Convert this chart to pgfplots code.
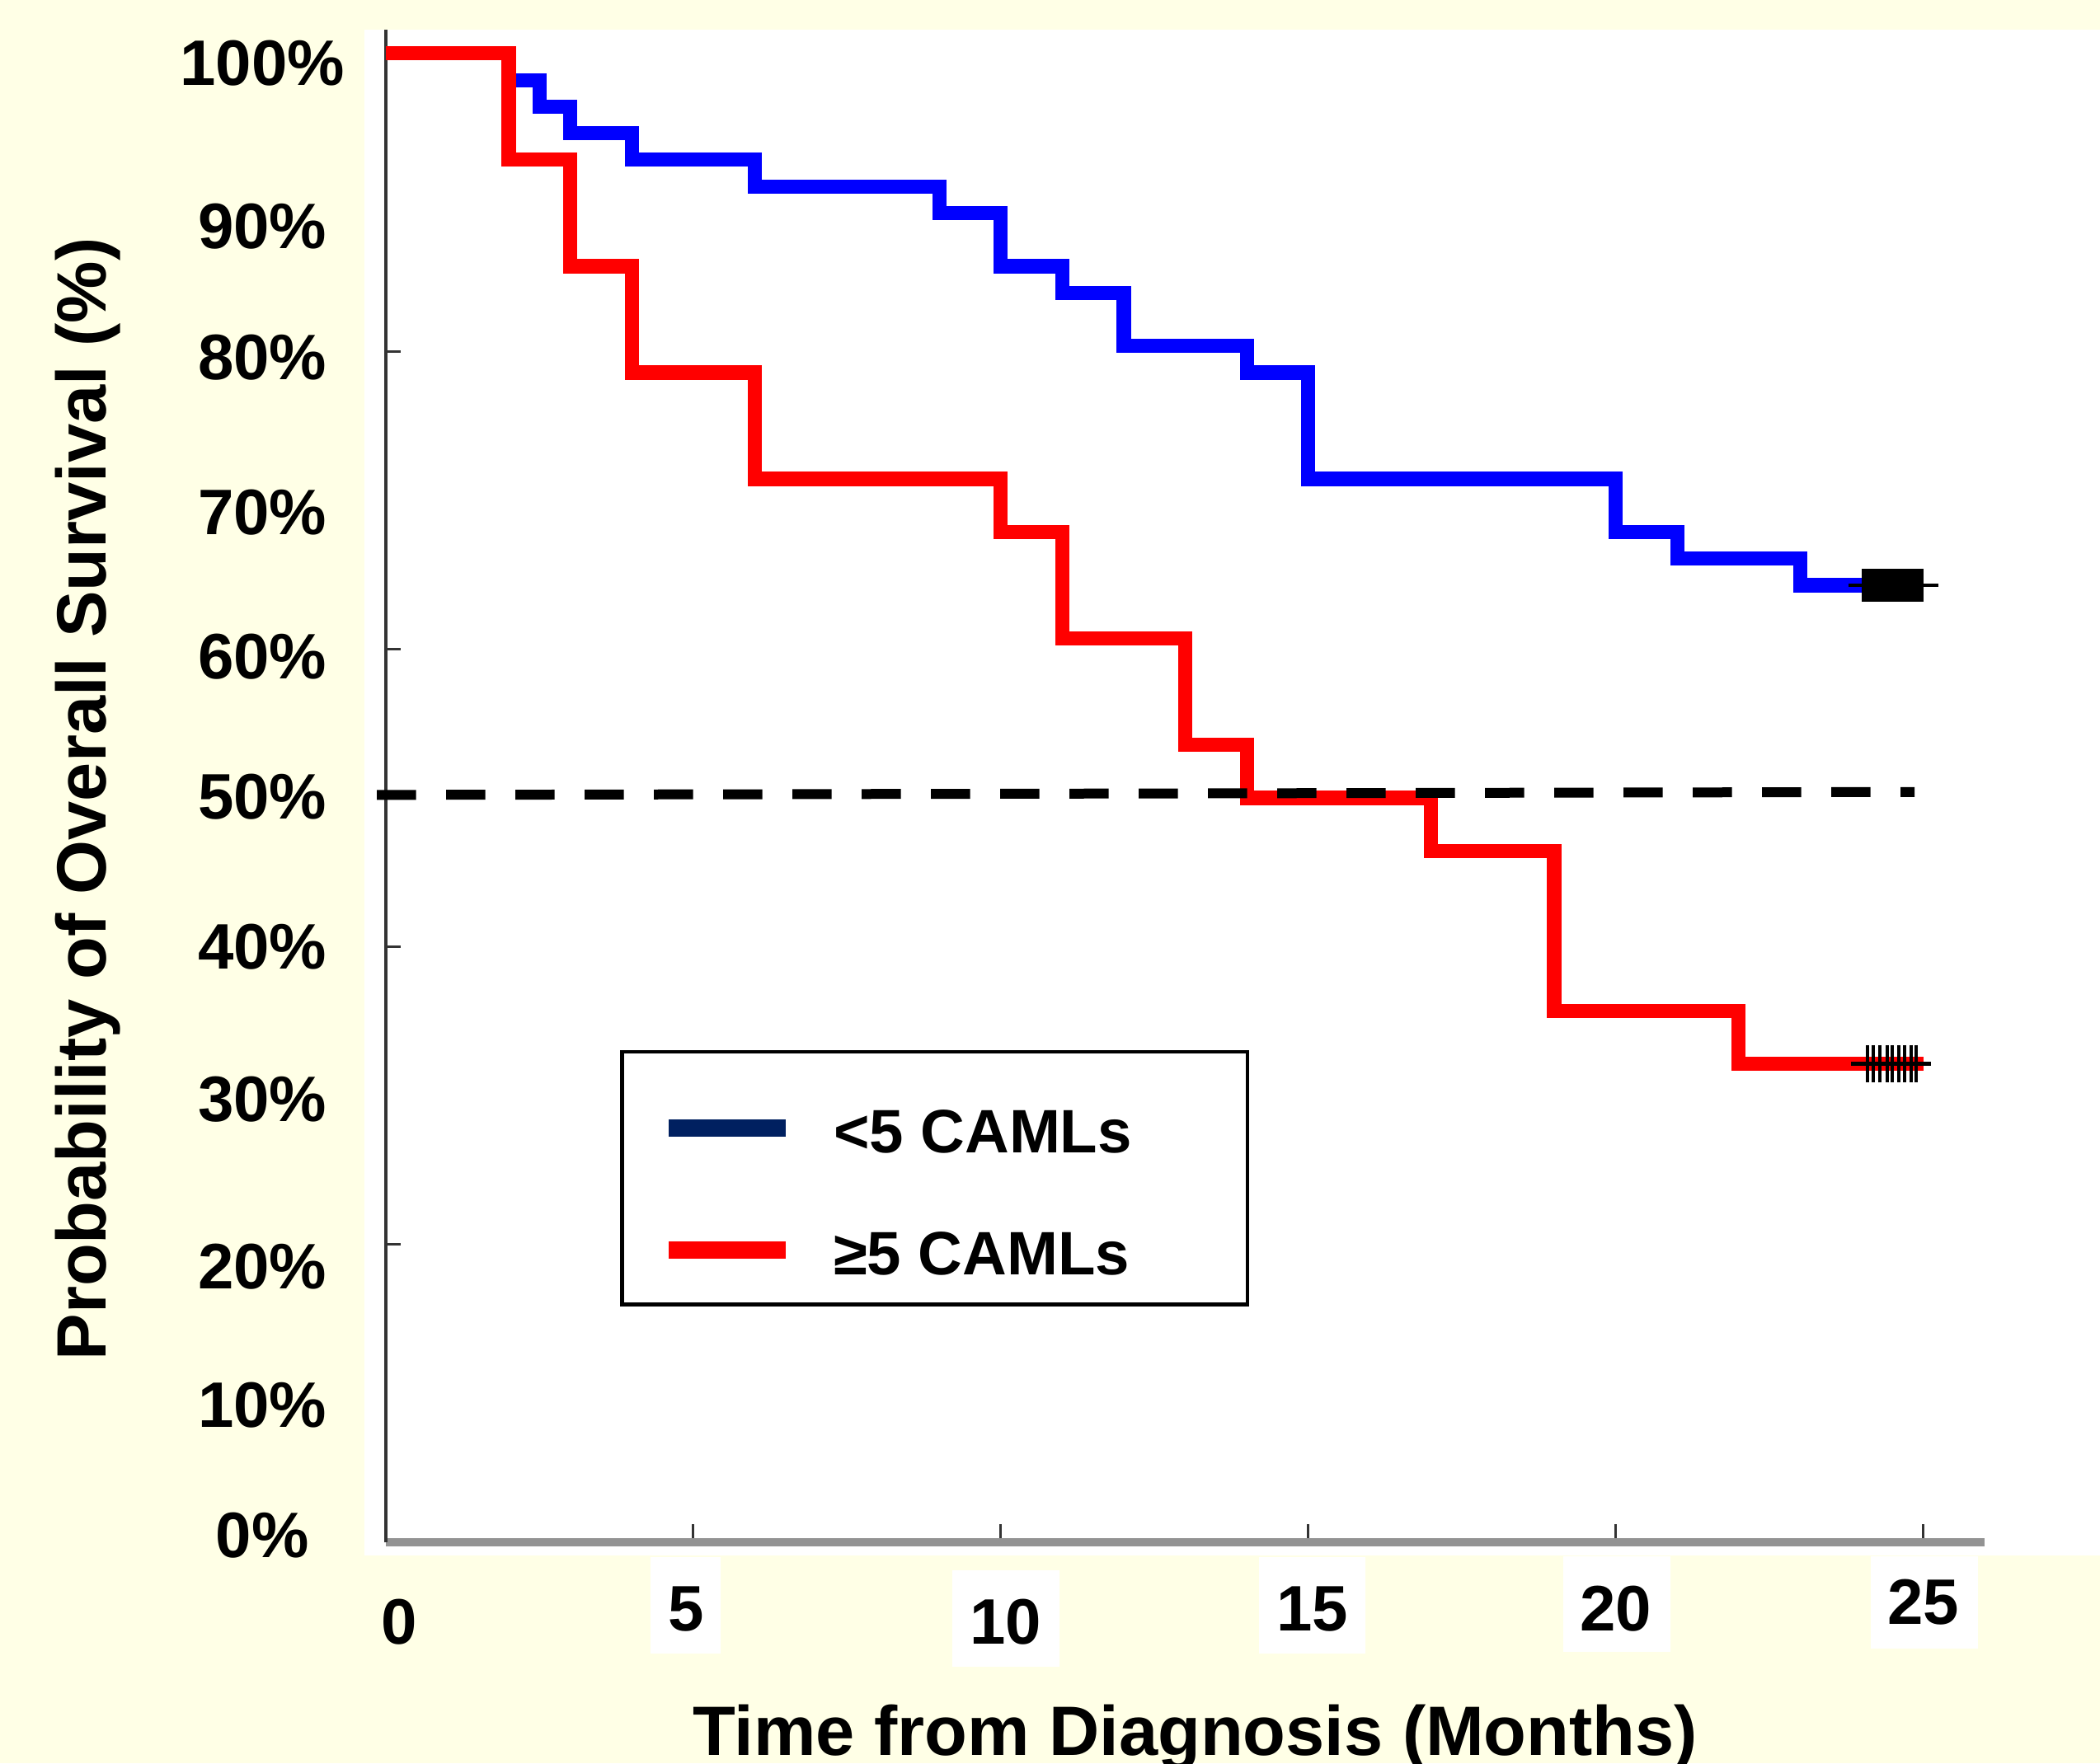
\documentclass[border=0pt]{standalone}
\usepackage{fontspec}
\setmainfont{Liberation Sans}
\usepackage{pgfplots}
\pgfplotsset{compat=1.18}
\definecolor{bgyellow}{RGB}{255,255,230}
\definecolor{kmblue}{RGB}{0,0,255}
\definecolor{kmred}{RGB}{255,0,0}
\definecolor{legblue}{RGB}{0,32,96}
\definecolor{axisgray}{RGB}{147,147,147}
\definecolor{tickgray}{RGB}{51,51,51}
\begin{document}
\begin{tikzpicture}
\fill[bgyellow] (-116.96pt,-67pt) rectangle (519.8pt,467.8pt);
\fill[white] (-6.5pt,-4.06pt) rectangle (519.8pt,458.9pt);
\fill[white] (80.4pt,-4.5pt) rectangle (101.5pt,-33.7pt);
\fill[white] (171.8pt,-8.5pt) rectangle (204.3pt,-37.8pt);
\fill[white] (264.8pt,-4.5pt) rectangle (297.1pt,-33.7pt);
\fill[white] (357.0pt,-4.1pt) rectangle (389.5pt,-33.3pt);
\fill[white] (450.4pt,-4.1pt) rectangle (482.8pt,-32.1pt);
\begin{axis}[
  scale only axis, width=484.85pt, height=458.8pt,
  xmin=0, xmax=26, ymin=0, ymax=101.6,
  clip=false,
  axis x line*=bottom, axis y line*=left,
  axis line style={-},
  x axis line style={axisgray, line width=2.5pt, -},
  y axis line style={tickgray, line width=0.9pt, -},
  /pgf/number format/assume math mode=true,
  major tick length=5.6pt,
  xtick={0,5,10,15,20,25},
  xticklabels={\hspace*{8.2pt}\raisebox{-4.1pt}{0}, 5\hspace*{4.4pt}, \hspace*{3pt}\raisebox{-4.1pt}{10}, \hspace*{2.6pt}15, 20, \raisebox{2pt}{25}},
  xtick style={draw=tickgray, line width=0.75pt},
  xticklabel style={anchor=base, yshift=-26.8pt, font=\fontsize{19.5}{22}\selectfont\bfseries},
  ytick={0.48,9.21,18.5,29.73,39.99,50.1,59.46,69.15,79.6,88.4,99.37},
  yticklabels={0\%,10\%,20\%,30\%,40\%,50\%,60\%,70\%,80\%,90\%,100\%},
  ytick style={draw=none},
  yticklabel style={anchor=center, xshift=-37.4pt, inner sep=0pt, font=\fontsize{19.5}{22}\selectfont\bfseries},
  extra y ticks={20,40,60,80},
  extra y tick labels={},
  extra y tick style={ytick style={draw=tickgray, line width=0.75pt}, major tick length=4.6pt},
  xlabel={Time from Diagnosis (Months)},
  ylabel={Probability of Overall Survival (\%)},
  every axis x label/.style={at={(axis description cs:0.5063,-0.1408)}, anchor=base, font=\fontsize{21.2}{25}\selectfont\bfseries},
  every axis y label/.style={at={(axis description cs:-0.1751,0.4913)}, rotate=90, anchor=base, font=\fontsize{21.2}{25}\selectfont\bfseries},
  legend entries={<5 CAMLs\hspace*{23.4pt}, ≥5 CAMLs},
  legend image code/.code={\draw[#1] (0pt,7.5pt) -- (35.3pt,7.5pt);},
  legend style={at={(axis description cs:0.1466,0.3256)}, anchor=north west, draw=black, line width=1.2pt, fill=white,
    inner xsep=11.6pt, inner ysep=4pt, row sep=5.3pt, column sep=12.0pt,
    font=\fontsize{18.6}{22}\selectfont\bfseries,
    cells={anchor=base west},
    nodes={inner sep=0pt, text height=26.6pt, text depth=5.1pt}},
]
\addlegendimage{legblue, line width=5.25pt}
\addlegendimage{kmred, line width=5.25pt}
% <5 CAMLs
\addplot[const plot, kmblue, line width=4.3pt] coordinates {
(0,100) (2,98.21) (2.5,96.43) (3,94.64) (4,92.86) (6,91.07) (9,89.29) (10,85.71) (11,83.93) (12,80.36) (14,78.57) (15,71.43) (20,67.86) (21,66.07) (23,64.29) (25,64.29)};
% >=5 CAMLs
\addplot[const plot, kmred, line width=4.3pt] coordinates {
(0,100) (2,92.86) (3,85.71) (4,78.57) (6,71.43) (10,67.86) (11,60.71) (13,53.57) (14,50.0) (17,46.43) (19,35.71) (22,32.14) (25,32.14)};
% median line
\addplot[black, line width=3pt, dash pattern=on 11.9pt off 9.1pt] coordinates {(-0.144,50.2) (24.86,50.4)};
% censoring
\addplot[black, line width=1.1pt] coordinates {(23.78,64.29) (25.24,64.29)};
\addplot[black, line width=1.1pt] coordinates {(23.83,32.14) (25.12,32.14)};
\addplot[only marks, mark=|, mark size=4.9pt, mark options={line width=1pt, draw=black}] coordinates {
(24.02,64.29) (24.05,64.29) (24.08,64.29) (24.11,64.29) (24.14,64.29) (24.17,64.29) (24.20,64.29) (24.23,64.29) (24.26,64.29) (24.29,64.29) (24.32,64.29) (24.35,64.29) (24.38,64.29) (24.41,64.29) (24.44,64.29) (24.47,64.29) (24.50,64.29) (24.53,64.29) (24.56,64.29) (24.59,64.29) (24.62,64.29) (24.65,64.29) (24.68,64.29) (24.71,64.29) (24.74,64.29) (24.77,64.29) (24.80,64.29) (24.83,64.29) (24.86,64.29) (24.89,64.29) (24.92,64.29) (24.95,64.29) (24.98,64.29)};
\addplot[only marks, mark=|, mark size=5.7pt, mark options={line width=1pt, draw=black}] coordinates {
(24.09,32.14) (24.19,32.14) (24.30,32.14) (24.41,32.14) (24.49,32.14) (24.60,32.14) (24.70,32.14) (24.81,32.14) (24.88,32.14)};
\end{axis}
\pgfresetboundingbox
\path[use as bounding box] (-116.96pt,-67pt) rectangle (519.8pt,467.8pt);
\end{tikzpicture}
\end{document}
